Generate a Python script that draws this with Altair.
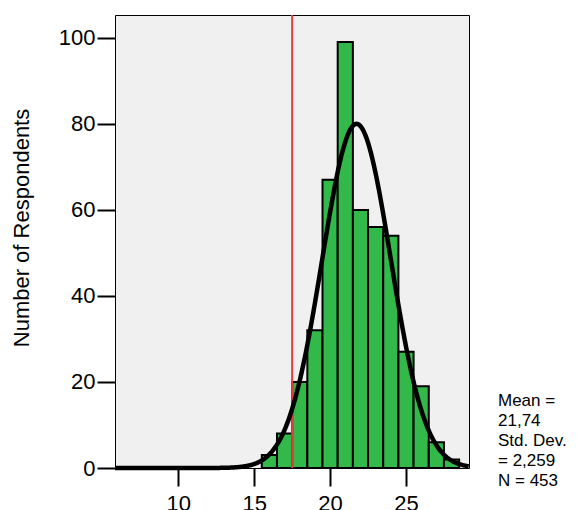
import altair as alt
import pandas as pd

# Histogram bins (centres) and counts
bin_centres = [16, 17, 18, 19, 20, 21, 22, 23, 24, 25, 26, 27, 28]
counts = [3, 8, 20, 32, 67, 99, 60, 56, 54, 27, 19, 6, 2]
bin_width = 1.0

# Summary statistics printed beside the chart
mean_val = 21.74
sd_val = 2.259
n_val = 453
mean_label = "21,74"
sd_label = "2,259"

# Reference line position
ref_line = [17.5]

# Axis setup
x_domain = [5.83, 29.15]
y_domain = [0, 105.3]
x_ticks = [10, 15, 20, 25]
y_ticks = [0, 20, 40, 60, 80, 100]

FONT = "Liberation Sans"

bars_df = pd.DataFrame({"centre": bin_centres, "count": counts})
bars_df["lo"] = bars_df["centre"] - bin_width / 2
bars_df["hi"] = bars_df["centre"] + bin_width / 2

xs = alt.Scale(domain=x_domain, nice=False, zero=False)
ys = alt.Scale(domain=y_domain, nice=False)

x_axis = alt.Axis(values=x_ticks, title=None, grid=False, domain=False,
                  tickSize=18, tickWidth=2, tickColor="black",
                  labelFontSize=22, labelFont=FONT, labelColor="black",
                  labelPadding=7)
y_axis = alt.Axis(values=y_ticks, title="Number of Respondents", grid=False,
                  domain=False, tickSize=18, tickWidth=2, tickColor="black",
                  labelFontSize=22, labelFont=FONT, labelColor="black",
                  labelPadding=2, titleFontSize=22, titleFont=FONT,
                  titleFontWeight="normal", titleColor="black",
                  titleAngle=270, titleX=-87, titleY=212.5,
                  titleAlign="center", titleBaseline="alphabetic")

bars = alt.Chart(bars_df).mark_bar(
    color="#32b94a", stroke="black", strokeWidth=2
).encode(
    x=alt.X("lo:Q", scale=xs, axis=x_axis),
    x2="hi:Q",
    y=alt.Y("count:Q", scale=ys, axis=y_axis),
    y2=alt.datum(0),
)

rule = alt.Chart(pd.DataFrame({"x": ref_line})).mark_rule(
    color="#e83c3c", strokeWidth=2
).encode(x=alt.X("x:Q", scale=xs))

curve = alt.Chart(
    alt.sequence(start=x_domain[0], stop=x_domain[1] + 0.01, step=0.05, as_="x")
).transform_calculate(
    y=f"{n_val} * {bin_width} / ({sd_val} * sqrt(2 * PI)) * "
      f"exp(-0.5 * pow((datum.x - {mean_val}) / {sd_val}, 2))"
).mark_line(color="black", strokeWidth=4.5).encode(
    x=alt.X("x:Q", scale=xs),
    y=alt.Y("y:Q", scale=ys),
)

stats_text = f"Mean =\n{mean_label}\nStd. Dev.\n= {sd_label}\nN = {n_val}"
note = alt.Chart(pd.DataFrame({"t": [stats_text]})).mark_text(
    align="left", baseline="alphabetic", fontSize=17, font=FONT,
    color="black", lineBreak="\n", lineHeight=20
).encode(
    x=alt.value(383), y=alt.value(390.7), text="t:N"
)

chart = alt.layer(bars, rule, curve, note).properties(
    width=354, height=453,
    autosize=alt.AutoSizeParams(type="none"),
    padding={"left": 107, "top": 7, "right": 100, "bottom": 42},
).configure_view(
    fill="#f0f0f0", stroke="black", strokeWidth=1
)

chart.save("out.html", embed_options={"renderer": "svg", "actions": False})
